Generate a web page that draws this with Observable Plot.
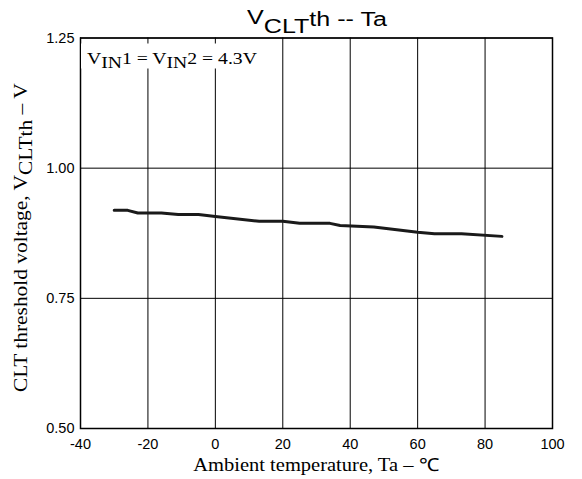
<!DOCTYPE html>
<html>
<head>
<meta charset="utf-8">
<script src="https://cdn.jsdelivr.net/npm/d3@7"></script>
<script src="https://cdn.jsdelivr.net/npm/@observablehq/plot@0.6"></script>
<style>
  html, body { margin: 0; padding: 0; background: #fff; }
  svg text { white-space: pre; }
</style>
</head>
<body>
<script>
// Data
const temperatures = [-30, -26, -23, -16, -11, -5, 0, 13, 20, 25, 34, 37, 47, 60, 65, 73, 85];
const thresholdVoltages = [0.919, 0.919, 0.914, 0.914, 0.911, 0.911, 0.907, 0.898, 0.898, 0.894, 0.894, 0.890, 0.887, 0.877, 0.874, 0.874, 0.869];

const xTicks = [-40, -20, 0, 20, 40, 60, 80, 100];
const xTickLabels = ["-40", "-20", "0", "20", "40", "60", "80", "100"];
const yTicks = [0.50, 0.75, 1.00, 1.25];
const yTickLabels = ["0.50", "0.75", "1.00", "1.25"];

const data = temperatures.map((t, i) => ({t, v: thresholdVoltages[i]}));

const chart = Plot.plot({
  width: 582,
  height: 479,
  marginLeft: 80,
  marginRight: 30,
  marginTop: 37.5,
  marginBottom: 51,
  style: {fontFamily: "Liberation Sans, Arial, sans-serif", fontSize: "14.5px", color: "#000", background: "#fff", overflow: "visible"},
  x: {domain: [-40, 100], label: null},
  y: {domain: [0.5, 1.25], label: null},
  marks: [
    Plot.gridX(xTicks, {stroke: "#000", strokeOpacity: 1, strokeWidth: 1}),
    Plot.gridY(yTicks, {stroke: "#000", strokeOpacity: 1, strokeWidth: 1}),
    Plot.axisX(xTicks, {tickSize: 0, tickPadding: 10, tickFormat: d => xTickLabels[xTicks.indexOf(d)], fontSize: 14.5}),
    Plot.axisY(yTicks, {tickSize: 0, tickPadding: 6, tickFormat: d => yTickLabels[yTicks.indexOf(d)], fontSize: 14.5}),
    Plot.frame({stroke: "#000", strokeWidth: 1.5}),
    Plot.line(data, {x: "t", y: "v", stroke: "#1a1a1a", strokeWidth: 3, strokeLinejoin: "round"})
  ]
});
document.body.append(chart);

const svg = d3.select(chart);
const xs = chart.scale("x"), ys = chart.scale("y");
const [x0, x1] = xs.range;
const yTop = ys.apply(1.25), yBot = ys.apply(0.5);

function richText(parts, {x, y, size, family, anchor, target, rotate}) {
  const t = svg.append("text")
    .attr("font-family", family)
    .attr("font-size", size)
    .attr("text-anchor", anchor)
    .attr("fill", "#000");
  let cur = 0;
  for (const [s, off] of parts) {
    t.append("tspan").attr("dy", off - cur).text(s);
    cur = off;
  }
  const w = t.node().getComputedTextLength();
  const k = target ? target / w : 1;
  t.attr("transform", `translate(${x},${y})${rotate ? ` rotate(${rotate})` : ""} scale(${k},1)`);
  return t;
}

// white box behind the annotation
svg.append("rect")
  .attr("x", x0 + 1)
  .attr("y", yTop + 6)
  .attr("width", 181)
  .attr("height", 25)
  .attr("fill", "#fff");

// annotation
richText([["V", 0], ["IN", 4], ["1 = V", 0], ["IN", 4], ["2 = 4.3V", 0]],
  {x: x0 + 7, y: yTop + 26, size: 17, family: "Liberation Serif, serif", anchor: "start", target: 170});

// title
richText([["V", -2], ["CLT", 7], ["th -- Ta", 0]],
  {x: (x0 + x1) / 2 + 1, y: 26, size: 21, family: "Liberation Sans, Arial, sans-serif", anchor: "middle", target: 140});

// x-axis label
richText([["Ambient temperature, Ta – ℃", 0]],
  {x: (x0 + x1) / 2, y: 471, size: 18, family: "Liberation Serif, serif", anchor: "middle", target: 246});

// y-axis label
richText([["CLT threshold voltage, V", 0], ["CLTth", 5], [" – V", 0]],
  {x: 27, y: (yTop + yBot) / 2 + 5, size: 18, family: "Liberation Serif, serif", anchor: "middle", target: 309, rotate: -90});
</script>
</body>
</html>
